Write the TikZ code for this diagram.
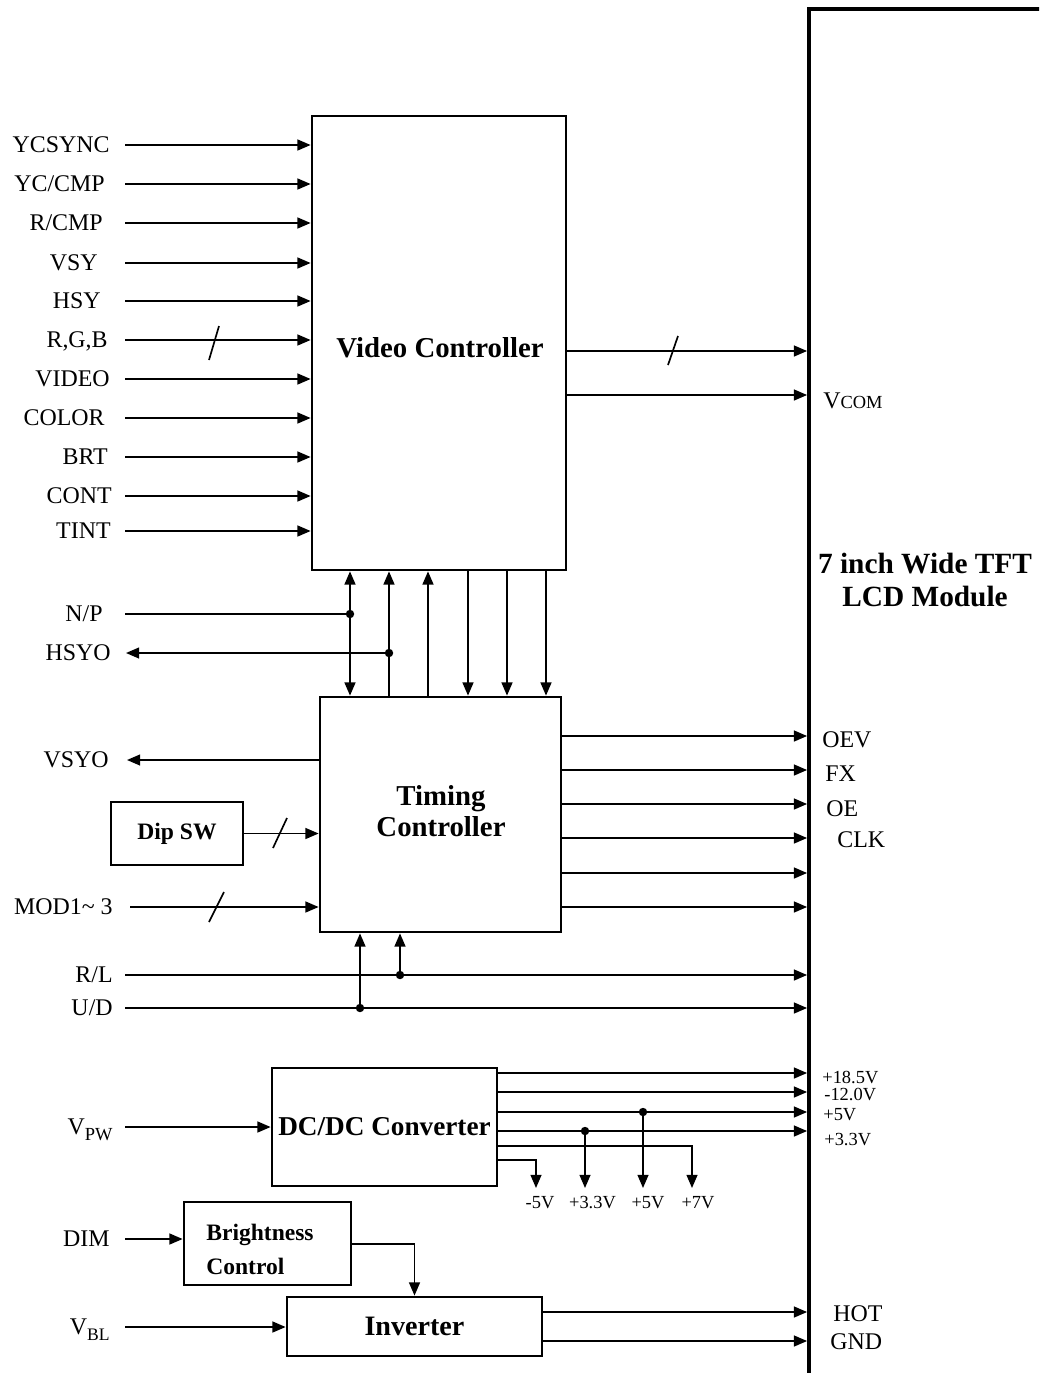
\documentclass[tikz,border=0pt]{standalone}
\usepackage{fontspec}
\setmainfont{Liberation Serif}
\usetikzlibrary{arrows.meta}
\newcommand\sigin[4]{\node[ilbl] (l#1) at (#2,#3) {#4}; \coordinate (i#1) at (125,#3);}
\begin{document}
\begin{tikzpicture}[x=0.02cm,y=-0.02cm,
  box/.style={draw, line width=1.6pt, inner sep=0pt, align=center, font=\bfseries\fontsize{16.4}{18}\selectfont},
  lcdbox/.style={draw, line width=2.2pt, inner sep=0pt},
  conn/.style={line width=0.95pt},
  arr/.style={conn, -{Triangle[length=7.5pt,width=6.2pt]}},
  darr/.style={conn, {Triangle[length=7.5pt,width=6.2pt]}-{Triangle[length=7.5pt,width=6.2pt]}},
  lbl/.style={inner sep=0pt, text height=9pt, text depth=0pt, font=\fontsize{13.6}{16}\selectfont},
  ilbl/.style={lbl, anchor=east},
  rlbl/.style={lbl, anchor=west},
  slbl/.style={inner sep=0pt, text height=7pt, text depth=0pt, font=\fontsize{10.5}{12}\selectfont},
  rslbl/.style={slbl, anchor=west},
  dot/.style={circle, fill, inner sep=0pt, minimum size=4.8pt},
  tick/.style={line width=0.95pt}
]
\useasboundingbox (0,0) rectangle (1039,1373);
\fill[white] (0,0) rectangle (1039,1373);
\clip (0,0) rectangle (1039,1373);

% LCD module
\node[lcdbox, minimum width=6.6cm, minimum height=29.28cm] (lcd) at (974,741) {};
\node[align=center, inner sep=0pt, font=\bfseries\fontsize{16.7}{18.7}\selectfont] (lcdtext) at (925,580) {7 inch Wide TFT\\LCD Module};

% blocks
\node[box, minimum width=5.08cm, minimum height=9.08cm] (vc) at (439,343) {};
\node[inner sep=0pt, font=\bfseries\fontsize{16.4}{18}\selectfont] (vctext) at (440,348) {Video Controller};
\node[box, minimum width=4.82cm, minimum height=4.70cm] (tc) at (440.5,814.5) {};
\node[inner sep=0pt, align=center, font=\bfseries\fontsize{16.4}{18}\selectfont] (tctext) at (441,811) {Timing\\Controller};
\node[box, minimum width=2.64cm, minimum height=1.26cm, font=\bfseries\fontsize{13.4}{15}\selectfont] (dip) at (177,833.5) {Dip SW};
\node[box, minimum width=4.50cm, minimum height=2.36cm, font=\bfseries\fontsize{15.5}{17}\selectfont] (dc) at (384.5,1127) {DC/DC Converter};
\node[box, minimum width=3.34cm, minimum height=1.66cm] (bc) at (267.5,1243.5) {};
\node[anchor=west, align=left, inner sep=0pt, font=\bfseries\fontsize{13.4}{19.8}\selectfont] (bctext) at (206,1249.5) {Brightness\\Control};
\node[box, minimum width=5.10cm, minimum height=1.18cm, font=\bfseries\fontsize{16}{18}\selectfont] (inv) at (414.5,1326.5) {Inverter};

% video inputs
\sigin{ycsync}{110}{145}{YCSYNC}
\sigin{yccmp}{105}{184}{YC/CMP}
\sigin{rcmp}{103}{223}{R/CMP}
\sigin{vsy}{98}{263}{VSY}
\sigin{hsy}{101}{301}{HSY}
\sigin{rgb}{108}{340}{R,G,B}
\sigin{video}{110}{379}{VIDEO}
\sigin{color}{105}{418}{COLOR}
\sigin{brt}{108}{457}{BRT}
\sigin{cont}{112}{496}{CONT}
\sigin{tint}{111}{531}{TINT}
\foreach \n in {ycsync,yccmp,rcmp,vsy,hsy,rgb,video,color,brt,cont,tint}
  \draw[arr] (i\n) -- (i\n -| vc.west);
\draw[tick] (209,360) -- (219,326);

% video outputs
\draw[arr] (vc.east |- 0,351) -- (lcd.west |- 0,351);
\draw[tick] (668,365) -- (678,336);
\draw[arr] (vc.east |- 0,395) -- (lcd.west |- 0,395);
\node[rlbl] (lvcom) at (823,401) {V{\fontsize{10.5}{12}\selectfont COM}};

% between video and timing
\sigin{np}{103}{614}{N/P}
\node[dot] (jnp) at (350,614) {};
\draw[conn] (inp) -- (jnp.center);
\node[ilbl] (lhsyo) at (111,653) {HSYO};
\coordinate (ohsyo) at (126,653);
\node[dot] (jhsyo) at (389,653) {};
\draw[arr] (jhsyo.center) -- (ohsyo);
\draw[darr] (tc.north -| jnp) -- (vc.south -| jnp);
\draw[arr] (tc.north -| jhsyo) -- (vc.south -| jhsyo);
\draw[arr] (tc.north -| 428,0) -- (vc.south -| 428,0);
\foreach \xx in {468,507,546}
  \draw[arr] (vc.south -| \xx,0) -- (tc.north -| \xx,0);

% timing inputs
\node[ilbl] (lvsyo) at (109,760) {VSYO};
\coordinate (ovsyo) at (127,760);
\draw[arr] (tc.west |- ovsyo) -- (ovsyo);
\draw[arr] (dip.east) -- (dip.east -| tc.west);
\draw[tick] (273,848) -- (287,818);
\node[ilbl] (lmod) at (113,907) {MOD1\textasciitilde{} 3};
\coordinate (imod) at (130,907);
\draw[arr] (imod) -- (imod -| tc.west);
\draw[tick] (209,922) -- (224,892);

% timing outputs
\foreach \yy in {736,770,804,838,873,907}
  \draw[arr] (tc.east |- 0,\yy) -- (lcd.west |- 0,\yy);
\node[rlbl] (loev) at (822,740) {OEV};
\node[rlbl] (lfx) at (825,774) {FX};
\node[rlbl] (loe) at (826,809) {OE};
\node[rlbl] (lclk) at (837,840) {CLK};

% R/L, U/D
\sigin{rl}{113}{975}{R/L}
\sigin{ud}{113}{1008}{U/D}
\draw[arr] (irl) -- (irl -| lcd.west);
\draw[arr] (iud) -- (iud -| lcd.west);
\node[dot] (jrl) at (400,975) {};
\node[dot] (jud) at (360,1008) {};
\draw[arr] (jrl.center) -- (jrl |- tc.south);
\draw[arr] (jud.center) -- (jud |- tc.south);

% DC/DC
\sigin{vpw}{113}{1127}{V\raisebox{-3pt}{\fontsize{10.5}{12}\selectfont PW}}
\draw[arr] (ivpw) -- (ivpw -| dc.west);
\foreach \yy in {1073,1092,1112,1131}
  \draw[arr] (dc.east |- 0,\yy) -- (lcd.west |- 0,\yy);
\coordinate (om5) at (536,1188);
\coordinate (op7) at (692,1188);
\coordinate (op33) at (585,1188);
\coordinate (op5) at (643,1188);
\draw[arr] (dc.east |- 0,1160) -| (om5);
\draw[arr] (dc.east |- 0,1146) -| (op7);
\node[dot] (j33) at (585,1131) {};
\node[dot] (j5) at (643,1112) {};
\draw[arr] (j33.center) -- (op33);
\draw[arr] (j5.center) -- (op5);
\node[slbl] (lm5) at (540,1202) {-5V};
\node[slbl] (lp33) at (592.5,1202) {+3.3V};
\node[slbl] (lp5) at (648,1202) {+5V};
\node[slbl] (lp7) at (698,1202) {+7V};
\node[rslbl] (l185) at (822,1077) {+18.5V};
\node[rslbl] (l120) at (824,1094) {-12.0V};
\node[rslbl] (l5r) at (823,1114) {+5V};
\node[rslbl] (l33r) at (824,1139) {+3.3V};

% Brightness / Inverter
\sigin{dim}{110}{1239}{DIM}
\draw[arr] (idim) -- (idim -| bc.west);
\draw[arr] (bc.east |- 0,1244) -| (inv.north);
\sigin{vbl}{110}{1327}{V\raisebox{-3pt}{\fontsize{10}{12}\selectfont BL}}
\draw[arr] (ivbl) -- (ivbl -| inv.west);
\draw[arr] (inv.east |- 0,1312) -- (lcd.west |- 0,1312);
\draw[arr] (inv.east |- 0,1341) -- (lcd.west |- 0,1341);
\node[rlbl] (lhot) at (833,1314) {HOT};
\node[rlbl] (lgnd) at (830,1342) {GND};
\end{tikzpicture}
\end{document}
